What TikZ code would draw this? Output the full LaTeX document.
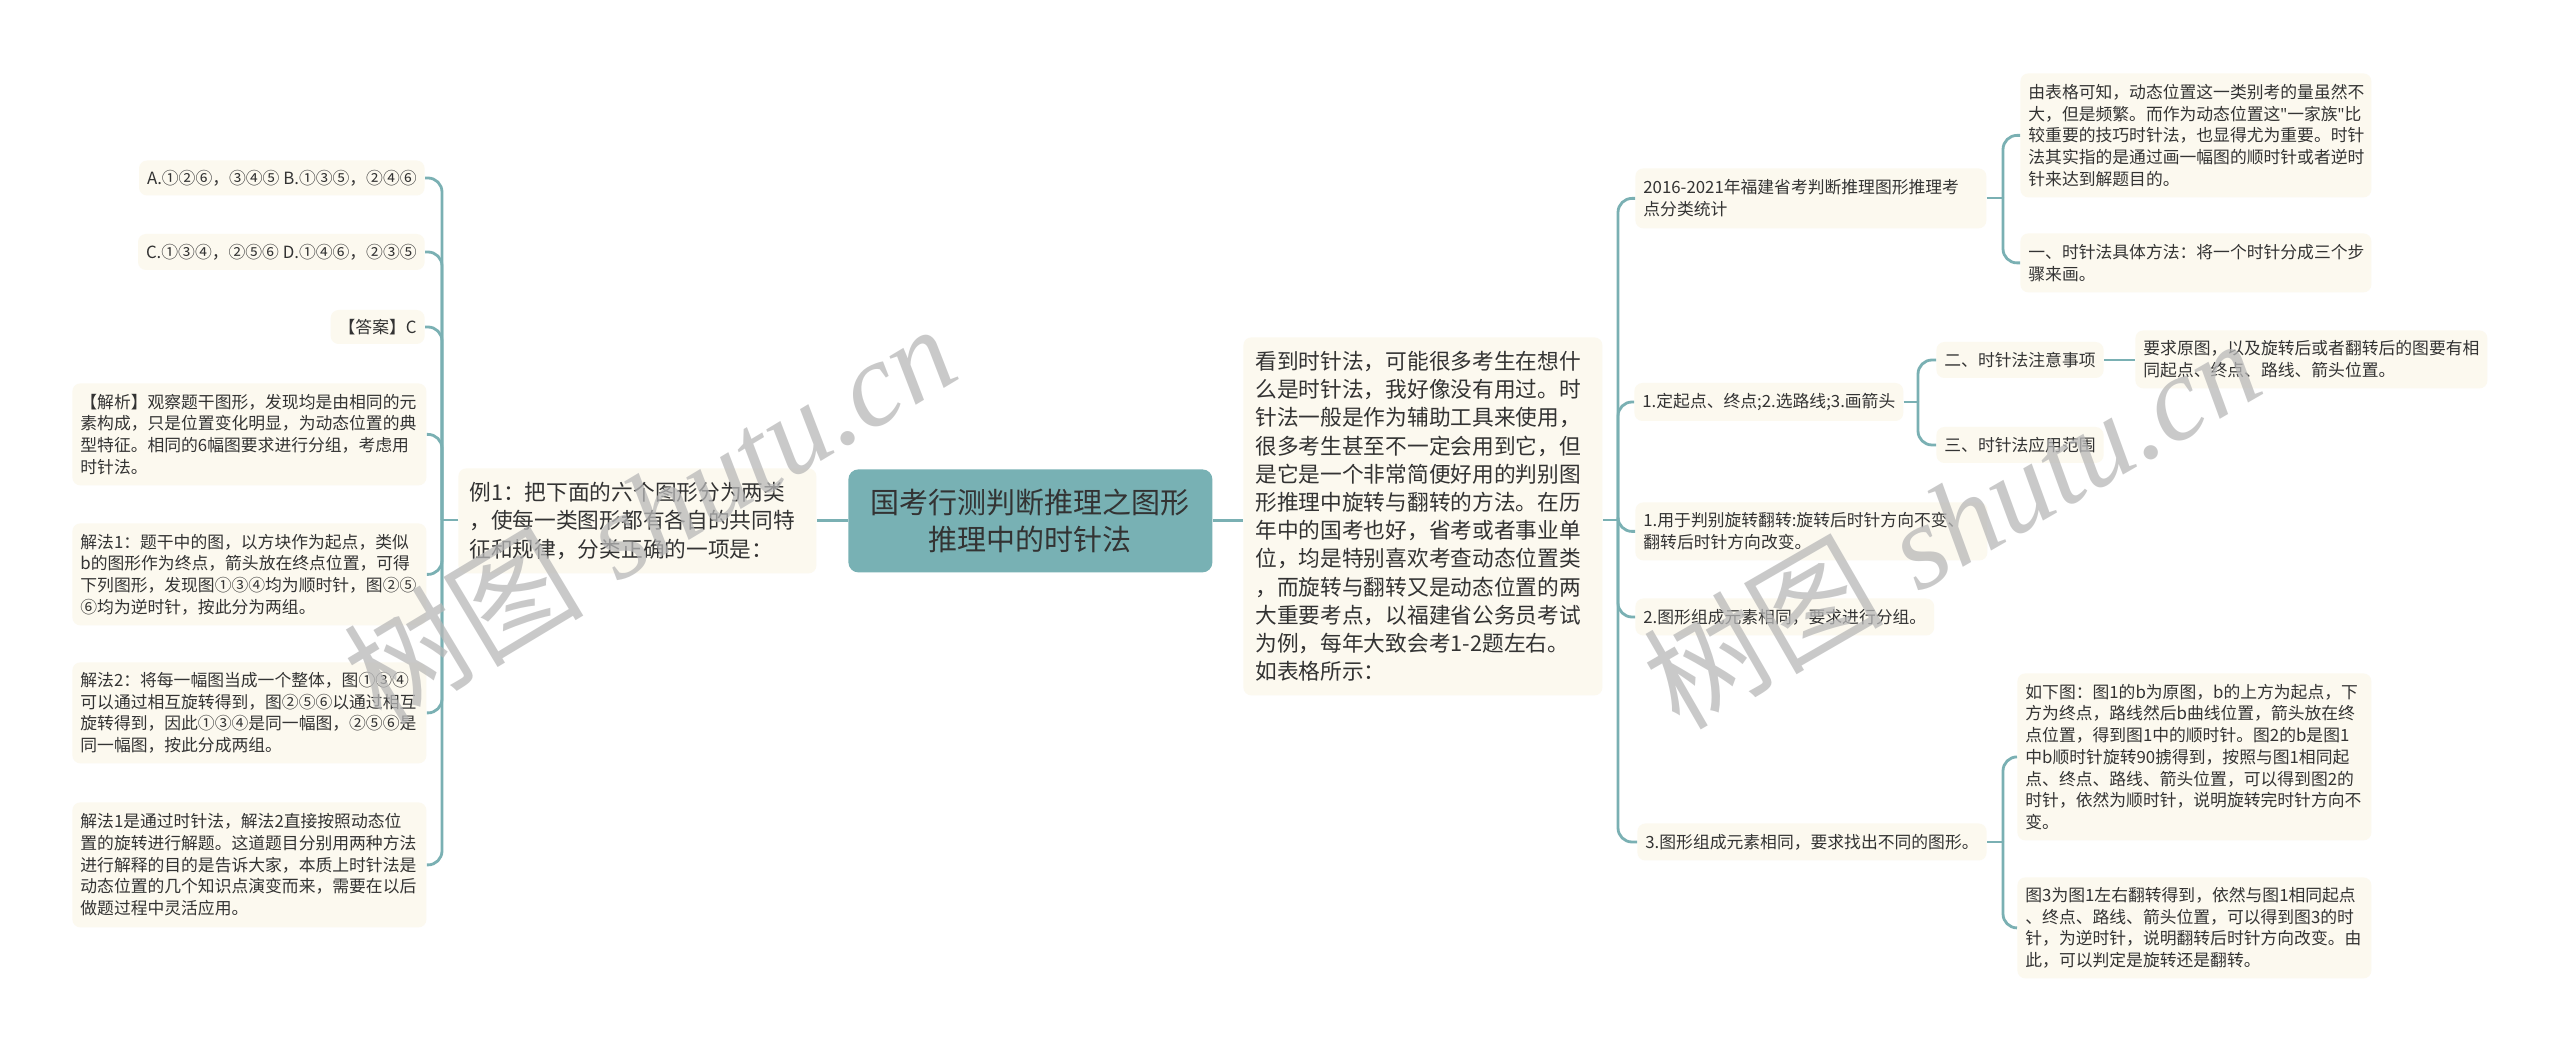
\documentclass[tikz,border=0pt]{standalone}
\usepackage{fontspec}
\setmainfont{Noto Sans CJK SC}
\newfontfamily\wmlatin{Liberation Serif}
\newfontfamily\wmcjk{Noto Sans CJK SC}
\newfontfamily\qfont{Noto Sans}
\newcommand{\sq}{{\qfont\char"22}}
\definecolor{rootfill}{HTML}{78B1B4}
\definecolor{linec}{HTML}{7AB0B3}
\definecolor{cream}{HTML}{FCF9EF}
\definecolor{txt}{HTML}{333333}
\definecolor{wmc}{HTML}{B8B8B8}
\tikzset{
  conn/.style={draw=linec, line width=1.4pt, rounded corners=7pt},
  leaf/.style={fill=cream, rounded corners=4pt, text=txt, font=\fontsize{8.4pt}{10.85pt}\selectfont, inner xsep=4pt, inner ysep=2pt, align=left},
  midbox/.style={fill=cream, rounded corners=4pt, text=txt, font=\fontsize{10.85pt}{14.1pt}\selectfont, inner ysep=2pt, align=left},
  rootbox/.style={fill=rootfill, rounded corners=5pt, text=txt, font=\fontsize{14.5pt}{18.35pt}\selectfont, align=center, minimum width=182pt, minimum height=51.5pt, inner sep=2pt},
  wm/.style={text=wmc, text opacity=0.75, font=\fontsize{60pt}{60pt}\selectfont, inner sep=0pt}
}
\begin{document}
\begin{tikzpicture}[x=0.5pt,y=-0.5pt]
\useasboundingbox[fill=white] (0,0) rectangle (2560,1052);

% root and main nodes
\node[rootbox, anchor=north west] (root) at (848,469) {国考行测判断推理之图形\\推理中的时针法};
\node[midbox, anchor=north west, inner xsep=5.5pt, text width=168pt, minimum height=52.5pt] (ex) at (458,468)
  {例1：把下面的六个图形分为两类\\，使每一类图形都有各自的共同特\\征和规律，分类正确的一项是：};
\node[midbox, anchor=north west, inner xsep=6pt, text width=167.5pt, minimum height=179pt] (cn) at (1243,337)
  {看到时针法，可能很多考生在想什\\么是时针法，我好像没有用过。时\\针法一般是作为辅助工具来使用，\\很多考生甚至不一定会用到它，但\\是它是一个非常简便好用的判别图\\形推理中旋转与翻转的方法。在历\\年中的国考也好，省考或者事业单\\位，均是特别喜欢考查动态位置类\\，而旋转与翻转又是动态位置的两\\大重要考点，以福建省公务员考试\\为例，每年大致会考1-2题左右。\\如表格所示：};

% left children
\node[leaf, anchor=east, minimum height=17.5pt] (L1) at (425,178) {A.①②⑥，③④⑤ B.①③⑤，②④⑥};
\node[leaf, anchor=east, minimum height=18pt] (L2) at (425,252) {C.①③④，②⑤⑥ D.①④⑥，②③⑤};
\node[leaf, anchor=east, minimum height=17pt] (L3) at (425,327) {【答案】C};
\node[leaf, anchor=north west, text width=169pt, minimum height=51pt] (L4) at (72,383)
  {【解析】观察题干图形，发现均是由相同的元\\素构成，只是位置变化明显，为动态位置的典\\型特征。相同的6幅图要求进行分组，考虑用\\时针法。};
\node[leaf, anchor=north west, text width=169pt, minimum height=51pt] (L5) at (72,523)
  {解法1：题干中的图，以方块作为起点，类似\\b的图形作为终点，箭头放在终点位置，可得\\下列图形，发现图①③④均为顺时针，图②⑤\\⑥均为逆时针，按此分为两组。};
\node[leaf, anchor=north west, text width=169pt, minimum height=50.5pt] (L6) at (72,662)
  {解法2：将每一幅图当成一个整体，图①③④\\可以通过相互旋转得到，图②⑤⑥以通过相互\\旋转得到，因此①③④是同一幅图，②⑤⑥是\\同一幅图，按此分成两组。};
\node[leaf, anchor=north west, text width=169pt, minimum height=62.5pt] (L7) at (72,802)
  {解法1是通过时针法，解法2直接按照动态位\\置的旋转进行解题。这道题目分别用两种方法\\进行解释的目的是告诉大家，本质上时针法是\\动态位置的几个知识点演变而来，需要在以后\\做题过程中灵活应用。};

% right children
\node[leaf, anchor=north west, text width=167.5pt, minimum height=30pt] (R1) at (1635,168)
  {2016-2021年福建省考判断推理图形推理考\\点分类统计};
\node[leaf, anchor=north west, text width=167.5pt, minimum height=62pt] (R1a) at (2020,73)
  {由表格可知，动态位置这一类别考的量虽然不\\大，但是频繁。而作为动态位置这\sq 一家族\sq 比\\较重要的技巧时针法，也显得尤为重要。时针\\法其实指的是通过画一幅图的顺时针或者逆时\\针来达到解题目的。};
\node[leaf, anchor=north west, text width=167.5pt, minimum height=29.5pt] (R1b) at (2020,233)
  {一、时针法具体方法：将一个时针分成三个步\\骤来画。};
\node[leaf, anchor=west, minimum height=19pt] (R2) at (1634,402) {1.定起点、终点;2.选路线;3.画箭头};
\node[leaf, anchor=west, minimum height=18pt] (R2a) at (1936,360) {二、时针法注意事项};
\node[leaf, anchor=north west, text width=168pt, minimum height=29pt] (R2a1) at (2135,330)
  {要求原图，以及旋转后或者翻转后的图要有相\\同起点、终点、路线、箭头位置。};
\node[leaf, anchor=west, minimum height=18pt] (R2b) at (1936,445) {三、时针法应用范围};
\node[leaf, anchor=north west, text width=168pt, minimum height=29pt] (R3) at (1635,502)
  {1.用于判别旋转翻转:旋转后时针方向不变、\\翻转后时针方向改变。};
\node[leaf, anchor=west, minimum height=18.5pt] (R4) at (1635,617) {2.图形组成元素相同，要求进行分组。};
\node[leaf, anchor=west, minimum height=18.5pt] (R5) at (1637,842) {3.图形组成元素相同，要求找出不同的图形。};
\node[leaf, anchor=north west, text width=169pt, minimum height=83.5pt] (R5a) at (2017,673)
  {如下图：图1的b为原图，b的上方为起点，下\\方为终点，路线然后b曲线位置，箭头放在终\\点位置，得到图1中的顺时针。图2的b是图1\\中b顺时针旋转90掳得到，按照与图1相同起\\点、终点、路线、箭头位置，可以得到图2的\\时针，依然为顺时针，说明旋转完时针方向不\\变。};
\node[leaf, anchor=north west, text width=169pt, minimum height=50.5pt] (R5b) at (2017,877)
  {图3为图1左右翻转得到，依然与图1相同起点\\、终点、路线、箭头位置，可以得到图3的时\\针，为逆时针，说明翻转后时针方向改变。由\\此，可以判定是旋转还是翻转。};

% junctions
\coordinate (lj) at (442,520);
\coordinate (rj) at (1618,520);
\coordinate (r1j) at (2003,198);
\coordinate (r2j) at (1918,402);
\coordinate (r5j) at (2003,842);

% connectors
\draw[conn] (root.west) -- (root.west -| ex.east);
\draw[conn] (ex.west |- lj) -- (lj);
\foreach \n in {L1,L2,L3,L4,L5,L6,L7} { \draw[conn] (lj) |- (\n.east); }
\draw[conn] (root.east) -- (root.east -| cn.west);
\draw[conn] (cn.east |- rj) -- (rj);
\foreach \n in {R1,R2,R3,R4,R5} { \draw[conn] (rj) |- (\n.west); }
\draw[conn] (R1.east |- r1j) -- (r1j);
\draw[conn] (r1j) |- (R1a.west);
\draw[conn] (r1j) |- (R1b.west);
\draw[conn] (R2.east) -- (r2j);
\draw[conn] (r2j) |- (R2a.west);
\draw[conn] (r2j) |- (R2b.west);
\draw[conn] (R2a.east) -- (R2a.east -| R2a1.west);
\draw[conn] (R5.east) -- (r5j);
\draw[conn] (r5j) |- (R5a.west);
\draw[conn] (r5j) |- (R5b.west);

% watermarks
\node[wm, rotate=31] (wm1) at (649,512) {\wmcjk 树图\hspace{0.3em}\wmlatin\itshape shutu.cn};
\node[wm, rotate=30] (wm2) at (1951,522) {\wmcjk 树图\hspace{0.3em}\wmlatin\itshape shutu.cn};
\end{tikzpicture}
\end{document}
